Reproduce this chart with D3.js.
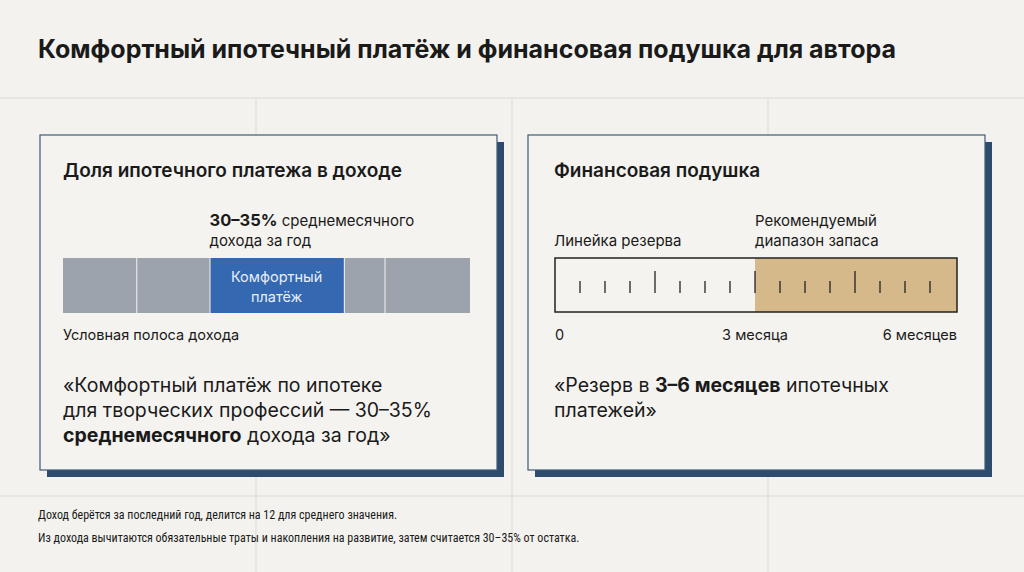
<!DOCTYPE html>
<html><head><meta charset="utf-8">
<script src="https://cdn.jsdelivr.net/npm/d3@7"></script>
<style>
body{margin:0;background:#f3f2ee}
text{font-family:Inter,"Noto Sans",sans-serif;fill:#1a1a1a}
</style></head><body>
<svg id="c" width="1024" height="572"></svg>
<script>
// income strip: segment boundaries in % of the strip, blue one = comfortable payment
const incomeEdges = [0, 18, 36, 69, 79, 100]
const comfortIndex = 2
// reserve ruler, months
const reserveMax = 6
const reserveRange = [3, 6]
const reserveTicks = d3.range(1, 16).map(i => i * 6 / 16)
const reserveLabels = [[0, '0', 'start'], [3, '3 месяца', 'middle'], [6, '6 месяцев', 'end']]
const footnotes = [
  'Доход берётся за последний год, делится на 12 для среднего значения.',
  'Из дохода вычитаются обязательные траты и накопления на развитие, затем считается 30–35% от остатка.'
]

const svg = d3.select('#c')
const grid = svg.append('g').attr('stroke', '#dcdad4')
;[98, 496].forEach(y => grid.append('line').attr('x1', 0).attr('x2', 1024).attr('y1', y).attr('y2', y))
;[256, 512, 768].forEach(x => grid.append('line').attr('x1', x).attr('x2', x).attr('y1', 98).attr('y2', 572))

svg.append('text').attr('x', 38).attr('y', 58).attr('font-size', 25).attr('font-weight', 700)
  .text('Комфортный ипотечный платёж и финансовая подушка для автора')

function panel(x) {
  svg.append('rect').attr('x', x + 7).attr('y', 142).attr('width', 457).attr('height', 335).attr('fill', '#2d4b6c')
  svg.append('rect').attr('x', x).attr('y', 135).attr('width', 457).attr('height', 335)
    .attr('fill', '#f4f3ef').attr('stroke', '#3d5a7a').attr('stroke-width', 1.2)
}
panel(40); panel(528)

// left panel
svg.append('text').attr('x', 63).attr('y', 177).attr('font-size', 19).attr('font-weight', 600).text('Доля ипотечного платежа в доходе')
const xi = d3.scaleLinear().domain([0, 100]).range([63, 470])
const segs = d3.pairs(incomeEdges)
svg.append('g').selectAll('rect').data(segs).join('rect')
  .attr('x', d => xi(d[0]) + (d[0] ? 1 : 0)).attr('width', d => xi(d[1]) - xi(d[0]) - (d[0] ? 1 : 0))
  .attr('y', 258).attr('height', 55)
  .attr('fill', (d, i) => i === comfortIndex ? '#3468b0' : '#9ca3ad')
const cs = segs[comfortIndex], cx = (xi(cs[0]) + xi(cs[1])) / 2
const lab = svg.append('text').attr('text-anchor', 'middle').attr('font-size', 14.5)
lab.append('tspan').attr('x', cx).attr('y', 282).style('fill', '#e8eef8').text('Комфортный')
lab.append('tspan').attr('x', cx).attr('y', 302).style('fill', '#e8eef8').text('платёж')
const ann = svg.append('text').attr('font-size', 15)
ann.append('tspan').attr('x', xi(cs[0])).attr('y', 226).attr('font-weight', 700).attr('font-size', 16.5).text('30–35%')
ann.append('tspan').text(' среднемесячного')
svg.append('text').attr('x', xi(cs[0])).attr('y', 246).attr('font-size', 15).text('дохода за год')
svg.append('text').attr('x', 63).attr('y', 340).attr('font-size', 14.5).text('Условная полоса дохода')
const q = svg.append('text').attr('font-size', 19.5)
q.append('tspan').attr('x', 63).attr('y', 392).text('«Комфортный платёж по ипотеке')
q.append('tspan').attr('x', 63).attr('y', 417).text('для творческих профессий — 30–35%')
q.append('tspan').attr('x', 63).attr('y', 442).attr('font-weight', 700).text('среднемесячного')
q.append('tspan').text(' дохода за год»')

// right panel
svg.append('text').attr('x', 554).attr('y', 177).attr('font-size', 19).attr('font-weight', 600).text('Финансовая подушка')
const xr = d3.scaleLinear().domain([0, reserveMax]).range([555, 955])
svg.append('text').attr('x', 554).attr('y', 246).attr('font-size', 15).text('Линейка резерва')
const rl = svg.append('text').attr('font-size', 15)
rl.append('tspan').attr('x', xr(reserveRange[0])).attr('y', 226).text('Рекомендуемый')
rl.append('tspan').attr('x', xr(reserveRange[0])).attr('y', 246).text('диапазон запаса')
svg.append('rect').attr('x', xr(reserveRange[0])).attr('y', 258).attr('width', xr(reserveRange[1]) - xr(reserveRange[0]) + 2).attr('height', 54).attr('fill', '#d6b98a')
svg.append('rect').attr('x', xr(0)).attr('y', 258).attr('width', xr(reserveMax) - xr(0) + 2).attr('height', 54)
  .attr('fill', 'none').attr('stroke', '#222').attr('stroke-width', 1.5)
svg.append('g').selectAll('line').data(reserveTicks).join('line')
  .attr('x1', d => xr(d)).attr('x2', d => xr(d))
  .attr('y1', (d, i) => (i + 1) % 4 === 0 ? 271 : 281).attr('y2', 293)
  .attr('stroke', '#222').attr('stroke-width', 1.3)
svg.append('g').selectAll('text').data(reserveLabels).join('text')
  .attr('x', d => xr(d[0]) + (d[2] === 'end' ? 2 : 0)).attr('y', 340).attr('font-size', 14.5)
  .attr('text-anchor', d => d[2]).text(d => d[1])
const rq = svg.append('text').attr('font-size', 19.5)
rq.append('tspan').attr('x', 554).attr('y', 392).text('«Резерв в ')
rq.append('tspan').attr('font-weight', 700).text('3–6 месяцев')
rq.append('tspan').text(' ипотечных')
rq.append('tspan').attr('x', 554).attr('y', 417).text('платежей»')

svg.append('g').selectAll('text').data(footnotes).join('text')
  .attr('x', 38).attr('y', (d, i) => 519 + i * 23).attr('font-size', 12)
  .style('font-family', '"Liberation Sans Narrow","Roboto Condensed",Roboto,sans-serif').text(d => d)
</script>
</body></html>
